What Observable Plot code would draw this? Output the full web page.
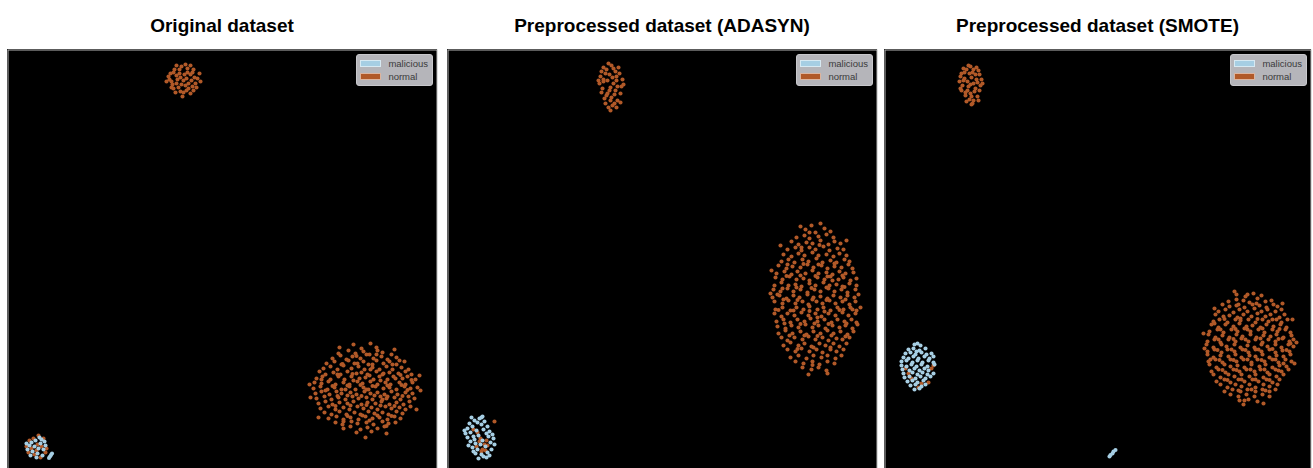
<!DOCTYPE html>
<html>
<head>
<meta charset="utf-8">
<script src="https://cdn.jsdelivr.net/npm/d3@7"></script>
<script src="https://cdn.jsdelivr.net/npm/@observablehq/plot@0.6"></script>
<style>
  html, body { margin: 0; padding: 0; background: #ffffff; }
  body { width: 1313px; height: 468px; overflow: hidden; position: relative; font-family: "Liberation Sans", Arial, Helvetica, sans-serif; }
  .panel { position: absolute; top: 0; }
  .title { position: absolute; top: 15px; left: 0; text-align: center; font-weight: bold; font-size: 19px; line-height: 22px; color: #000; white-space: nowrap; }
  .frame { position: absolute; top: 49px; left: 0; }
  .frame svg { display: block; }
  .legend { position: absolute; top: 5px; right: 4px; background: #b5b5ba; border: 1px solid #c8c8cc; border-radius: 3px; padding: 2px 4px 2px 3px; font-size: 9.5px; color: #3a3a3a; }
  .legend .row { display: flex; align-items: center; height: 13px; line-height: 13px; }
  .legend .sw { display: inline-block; width: 19px; height: 5px; margin-right: 7px; border: 1px solid rgba(255,255,255,0.55); }
</style>
</head>
<body>
<script>
// ---------- categories, colours, texts ----------
const labels = ["malicious", "normal"];
const labelColors = ["#a6cee3", "#b15928"];
const titles = ["Original dataset", "Preprocessed dataset (ADASYN)", "Preprocessed dataset (SMOTE)"];
const umapNote = "UMAP: n_neighbors=10, min_dist=0.5";

// ---------- Panel 1: Original dataset (UMAP coordinates, estimated) ----------
const p1NormalTop = [[17.6,39.9],[16.9,40.4],[18.3,40.5],[17.2,41.0],[18.0,41.1],[16.4,39.8],[18.8,39.6],[17.1,39.2],[18.1,39.1],[17.6,38.7],[16.6,39.1],[18.7,40.2],[16.3,40.6],[17.7,40.5],[16.9,39.6],[18.4,39.9],[17.4,41.3],[18.6,41.0],[16.7,41.0],[17.9,38.9],[16.2,40.0],[19.0,40.1],[18.9,39.2],[17.3,38.8],[16.8,38.7],[18.3,38.6],[17.0,40.0],[17.9,40.1],[17.4,39.5],[18.1,39.6],[16.5,39.5],[19.2,40.6],[17.8,41.5],[16.1,40.3],[18.6,38.9],[17.5,38.3],[16.9,41.4],[18.3,41.4],[17.2,40.6],[18.5,40.7],[15.9,39.8],[19.3,39.8],[17.3,40.2],[18.0,40.7],[16.6,40.7],[17.8,39.4],[16.4,39.2],[18.5,39.3]];
const p1NormalBig = [[34.6,13.5],[35.4,13.1],[36.3,13.6],[36.9,13.2],
[33.1,12.6],[34.1,12.9],[34.8,12.6],[35.6,12.8],[36.2,12.5],[37.0,12.9],[37.5,12.7],[38.4,12.5],
[32.5,12.1],[33.3,12.4],[33.9,12.0],[34.5,12.3],[35.3,12.1],[35.9,12.5],[36.6,12.1],[37.4,12.3],[38.0,12.0],[38.9,12.2],[39.2,11.9],
[31.9,11.6],[32.7,11.8],[33.4,11.5],[34.1,11.9],[34.7,11.6],[35.6,11.8],[36.1,11.5],[36.9,11.9],[37.6,11.6],[38.2,11.8],[38.9,11.5],[39.7,11.8],
[31.6,11.1],[32.3,11.3],[33.0,11.0],[33.6,11.4],[34.4,11.1],[35.1,11.3],[35.7,11.0],[36.5,11.2],[37.2,11.0],[37.9,11.3],[38.5,11.0],[39.4,11.2],[40.1,11.0],
[31.2,10.8],[31.8,10.5],[32.6,10.7],[33.3,10.5],[34.0,10.8],[34.9,10.6],[35.4,10.7],[36.2,10.4],[36.9,10.8],[37.5,10.5],[38.2,10.7],[39.1,10.6],[39.8,10.8],[40.4,10.5],
[30.9,10.1],[31.5,10.3],[32.3,10.0],[33.1,10.3],[33.7,10.0],[34.4,10.3],[35.2,10.1],[35.8,10.2],[36.6,10.0],[37.2,10.3],[38.0,10.0],[38.6,10.3],[39.5,10.1],[40.0,10.3],[40.8,10.0],
[30.7,9.7],[31.4,9.6],[32.1,9.8],[32.8,9.5],[33.6,9.7],[34.2,9.5],[35.0,9.8],[35.5,9.6],[36.3,9.8],[37.0,9.5],[37.8,9.7],[38.3,9.5],[39.2,9.7],[39.8,9.5],[40.5,9.7],
[30.6,9.1],[31.3,9.3],[32.0,9.0],[32.7,9.2],[33.4,9.0],[34.2,9.3],[34.8,9.0],[35.6,9.2],[36.1,9.0],[36.8,9.3],[37.6,9.1],[38.2,9.2],[38.9,9.0],[39.7,9.3],[40.3,9.1],[41.0,9.2],
[30.8,8.6],[31.4,8.8],[32.2,8.5],[32.9,8.8],[33.4,8.6],[34.3,8.7],[34.9,8.5],[35.7,8.8],[36.3,8.6],[37.0,8.7],[37.7,8.5],[38.4,8.8],[39.0,8.5],[39.8,8.7],[40.5,8.6],
[30.9,8.1],[31.7,8.3],[32.4,8.0],[33.1,8.2],[33.8,8.0],[34.5,8.3],[35.1,8.1],[35.9,8.2],[36.5,8.0],[37.3,8.3],[37.9,8.1],[38.7,8.2],[39.3,8.0],[40.1,8.3],[40.7,8.1],
[31.1,7.6],[31.8,7.8],[32.5,7.5],[33.2,7.7],[34.0,7.6],[34.6,7.8],[35.4,7.5],[36.0,7.7],[36.8,7.6],[37.4,7.8],[38.2,7.5],[38.9,7.7],[39.6,7.5],[40.2,7.8],
[31.3,7.1],[32.1,7.3],[32.8,7.0],[33.6,7.2],[34.2,7.0],[35.0,7.3],[35.6,7.1],[36.4,7.2],[37.0,7.0],[37.8,7.3],[38.4,7.1],[39.2,7.2],[39.8,7.0],[40.3,7.3],
[31.7,6.7],[32.4,6.5],[33.2,6.8],[33.9,6.5],[34.7,6.7],[35.3,6.5],[36.1,6.8],[36.7,6.6],[37.5,6.7],[38.1,6.5],[38.9,6.8],[39.5,6.6],
[32.1,6.1],[32.9,6.3],[33.6,6.0],[34.3,6.2],[35.1,6.0],[35.8,6.3],[36.5,6.1],[37.2,6.2],[38.0,6.0],[38.7,6.3],[39.3,6.1],
[32.8,5.7],[33.5,5.5],[34.4,5.8],[35.0,5.6],[35.9,5.7],[36.6,5.5],[37.5,5.8],[38.1,5.6],[38.8,5.7],
[33.6,5.1],[34.3,5.3],[35.3,5.0],[36.0,5.2],[37.0,5.1],[37.7,5.3],
[34.9,4.7],[36.4,4.8],
[30.2,9.5],[41.3,8.9],[41.2,10.4],[30.3,8.2],[33.2,13.2],[38.7,13.0],[35.8,4.2],[37.9,4.6],[31.1,6.2],[40.9,7.0],
[33.0,10.5],[34.5,10.55],[36.0,10.5],[37.6,10.6],[39.3,10.45],[32.5,9.35],[34.0,9.4],[35.3,9.45],[36.5,9.35],[38.0,9.4],[39.4,9.45],[33.0,8.35],[34.0,8.4],[35.4,8.35],[36.7,8.4],[38.0,8.3],[39.5,8.35],[32.8,7.35],[34.3,7.4],[35.9,7.45],[37.3,7.4],[38.7,7.35],[33.5,11.55],[35.0,11.6],[36.5,11.5],[38.5,11.5],[34.0,6.35],[35.5,6.4],[37.0,6.4],[38.4,6.35],[34.9,12.35],[36.9,12.5],[33.6,5.8],[36.2,5.9],[37.9,5.35],[31.4,10.0],[40.4,9.95],[31.8,8.9],[40.0,8.95],[37.3,9.9],[35.9,9.0],[34.6,9.9],[38.8,10.1],[36.3,11.0],[33.8,9.0],[37.5,8.0]];
const p1NormalMix = [[2.6,4.1],[3.4,3.3],[2.1,2.7],[3.0,3.5],[2.7,2.5],[3.8,2.7],[2.4,3.1],[3.3,2.2],[1.9,3.3],[3.6,4.1],[2.9,2.9],[3.1,4.4],[3.9,3.1],[2.2,3.9]];
const p1Malicious = [[2.2,3.4],[2.8,3.9],[3.3,3.6],[2.5,2.8],[3.0,2.6],[3.6,3.0],[2.0,3.0],[3.2,4.2],[2.7,3.3],[3.5,2.4],[2.3,2.4],[3.8,3.4],[2.9,2.2],[3.7,3.8],[2.4,3.7],[3.1,3.1],[1.9,3.6],[3.4,4.0],[4.15,2.15],[4.25,2.3],[4.35,2.45],[4.45,2.6]];

// ---------- Panel 2: ADASYN ----------
const p2NormalTop = [[16.3,39.2],[15.6,39.8],[16.9,39.9],[16.2,40.5],[15.9,41.0],[16.6,41.1],[17.2,40.6],[15.3,40.3],[15.5,39.1],[17.4,39.3],[16.0,38.6],[16.7,38.5],[16.3,37.9],[15.7,38.1],[17.0,37.9],[16.5,37.4],[16.1,37.2],[15.4,38.7],[17.3,38.6],[16.0,39.9],[16.6,39.6],[15.8,40.6],[16.9,40.3],[17.5,40.0],[15.2,39.6],[16.4,41.4],[16.1,41.6],[15.6,41.2],[17.1,41.2],[16.8,38.9],[15.9,38.4],[16.4,38.2],[17.3,37.7],[16.7,37.6],[15.8,37.6],[16.3,36.9],[16.9,37.2],[17.6,39.5],[15.1,39.9],[16.2,38.9],[15.6,40.0],[17.0,39.3],[16.5,40.2],[15.4,40.8],[16.8,40.8]];
const p2NormalBig = [[35.8,25.0],[36.8,24.7],[37.7,25.1],[38.3,24.8],[36.4,25.4],[37.3,25.6],
[34.9,24.2],[35.7,24.4],[36.2,24.1],[37.1,24.3],[37.9,24.5],[38.6,24.2],
[34.4,23.8],[35.1,23.5],[35.9,23.7],[36.5,23.6],[37.3,23.9],[38.1,23.5],[38.7,23.8],[39.3,23.6],
[34.0,23.0],[34.8,23.2],[35.4,22.9],[36.2,23.2],[36.8,23.0],[37.6,23.3],[38.2,22.9],[39.0,23.1],[39.6,23.0],
[33.6,22.5],[34.4,22.3],[35.1,22.6],[35.7,22.4],[36.5,22.7],[37.1,22.4],[37.9,22.5],[38.6,22.3],[39.2,22.6],[39.9,22.4],
[33.4,21.8],[34.1,22.0],[34.7,21.7],[35.5,22.0],[36.1,21.8],[36.9,22.1],[37.5,21.7],[38.3,21.9],[38.9,21.7],[39.7,22.0],[40.2,21.8],
[33.1,21.4],[33.9,21.1],[34.5,21.3],[35.3,21.2],[36.0,21.5],[36.6,21.2],[37.4,21.4],[38.0,21.1],[38.7,21.3],[39.4,21.2],[40.1,21.5],[40.5,21.1],
[32.9,20.6],[33.7,20.8],[34.4,20.5],[35.0,20.8],[35.8,20.6],[36.5,20.9],[37.1,20.6],[37.9,20.7],[38.5,20.5],[39.2,20.8],[39.8,20.6],[40.6,20.7],
[32.8,20.2],[33.5,20.0],[34.2,20.3],[34.9,20.0],[35.6,20.1],[36.2,19.9],[37.0,20.2],[37.7,20.0],[38.3,20.3],[39.1,20.0],[39.6,20.2],[40.3,19.9],[40.9,20.1],
[32.7,19.4],[33.4,19.7],[34.1,19.4],[34.8,19.5],[35.4,19.3],[36.2,19.6],[36.8,19.4],[37.6,19.7],[38.2,19.4],[38.9,19.5],[39.5,19.3],[40.2,19.6],[40.9,19.4],
[32.6,19.0],[33.3,18.8],[34.0,19.1],[34.6,18.8],[35.3,19.0],[36.0,18.7],[36.7,19.0],[37.3,18.8],[38.1,19.1],[38.7,18.8],[39.4,19.0],[40.0,18.7],[40.8,19.0],
[32.5,18.2],[33.2,18.4],[33.9,18.1],[34.6,18.4],[35.2,18.2],[36.0,18.5],[36.6,18.2],[37.3,18.3],[38.0,18.1],[38.6,18.4],[39.3,18.2],[40.0,18.4],[40.7,18.2],[41.1,18.5],
[32.7,17.8],[33.5,17.6],[34.1,17.9],[34.8,17.6],[35.5,17.8],[36.1,17.5],[36.9,17.8],[37.5,17.6],[38.2,17.9],[38.8,17.6],[39.5,17.8],[40.2,17.5],[40.8,17.8],
[32.8,17.0],[33.5,17.2],[34.3,16.9],[34.9,17.2],[35.6,17.0],[36.2,17.3],[37.0,17.0],[37.6,17.2],[38.3,16.9],[39.0,17.2],[39.6,17.0],[40.3,17.2],[40.9,16.9],
[32.7,16.6],[33.4,16.3],[34.0,16.6],[34.7,16.4],[35.4,16.7],[36.1,16.4],[36.8,16.6],[37.4,16.3],[38.1,16.6],[38.8,16.4],[39.5,16.7],[40.1,16.4],[40.8,16.6],
[32.9,15.8],[33.6,16.0],[34.3,15.7],[35.0,16.0],[35.7,15.8],[36.3,16.1],[37.0,15.8],[37.7,16.0],[38.4,15.7],[39.0,16.0],[39.7,15.8],[40.4,16.0],[40.9,15.7],
[33.0,15.3],[33.8,15.1],[34.4,15.4],[35.1,15.2],[35.8,15.5],[36.5,15.2],[37.1,15.4],[37.8,15.1],[38.5,15.4],[39.2,15.2],[39.8,15.4],[40.5,15.1],
[33.1,14.6],[33.8,14.9],[34.5,14.6],[35.3,14.8],[35.9,14.5],[36.6,14.8],[37.3,14.6],[38.0,14.9],[38.6,14.6],[39.3,14.8],[40.0,14.5],[40.6,14.8],
[33.4,14.2],[34.0,13.9],[34.7,14.2],[35.5,14.0],[36.1,14.3],[36.8,14.0],[37.5,14.2],[38.1,13.9],[38.9,14.1],[39.5,14.0],[40.2,14.2],
[33.6,13.4],[34.3,13.7],[35.1,13.4],[35.7,13.6],[36.4,13.3],[37.2,13.6],[37.8,13.4],[38.6,13.6],[39.2,13.3],[39.9,13.6],
[34.0,13.0],[34.8,12.8],[35.4,13.1],[36.2,12.8],[36.9,13.0],[37.5,12.7],[38.3,13.0],[38.9,12.8],[39.6,13.0],
[34.3,12.2],[35.1,12.4],[35.9,12.1],[36.6,12.4],[37.4,12.2],[38.0,12.4],[38.8,12.1],[39.4,12.4],
[34.8,11.8],[35.6,11.6],[36.5,11.8],[37.2,11.5],[38.0,11.8],[38.7,11.6],
[35.5,11.2],[36.4,11.0],[37.1,11.2],[37.9,10.9],
[36.1,10.5],[38.0,10.6],[32.3,18.6],[41.3,17.2],[41.0,15.5],[32.4,20.9],[33.3,23.4],[39.9,23.9],[35.3,25.3],
[34.0,21.5],[35.6,21.55],[37.1,21.5],[38.7,21.6],[33.9,20.35],[35.3,20.4],[36.8,20.35],[38.0,20.3],[39.5,20.4],[33.5,19.1],[34.9,19.2],[36.4,19.15],[37.9,19.2],[39.7,19.25],[33.6,18.0],[35.0,17.95],[36.5,18.0],[37.9,17.95],[39.8,18.0],[33.1,16.95],[34.6,16.9],[36.2,16.85],[37.7,16.8],[39.2,16.95],[33.7,15.6],[35.3,15.55],[36.7,15.6],[38.1,15.55],[39.9,15.6],[34.2,14.4],[35.7,14.4],[37.0,14.35],[38.4,14.4],[39.8,14.3],[35.0,13.05],[36.6,13.2],[38.3,13.2],[35.4,23.2],[37.2,23.45],[36.2,24.7],[36.5,11.45],[40.5,17.0],[33.0,18.5],[37.0,16.2],[38.5,19.9]];
const p2NormalMix = [[3.0,4.7],[3.3,4.1],[3.7,3.5],[2.9,3.3],[3.5,3.0],[3.9,3.9],[2.6,5.0],[3.2,3.8],[3.8,2.9],[4.0,3.4],[3.4,2.8],[4.7,5.8]];
const p2Malicious = [[2.2,5.6],[2.7,5.9],[3.2,6.1],[3.7,5.8],[2.0,5.1],[2.5,5.3],[3.4,5.5],[4.0,5.3],[1.8,4.6],[2.3,4.7],[2.9,4.9],[3.6,5.0],[4.2,4.8],[2.0,4.2],[2.6,4.3],[3.1,4.4],[4.1,4.3],[4.6,4.1],[2.3,3.8],[2.8,3.6],[3.5,3.9],[4.3,3.7],[4.7,3.5],[2.5,3.2],[3.0,3.0],[3.8,3.3],[4.4,3.0],[2.8,2.6],[3.4,2.5],[4.0,2.7],[3.1,2.1],[3.6,2.3],[2.4,6.2],[3.5,6.3],[1.7,4.9],[4.5,4.5],[2.1,3.4],[3.9,2.2],[2.6,2.8],[3.3,3.5],[4.2,2.4],[3.0,5.7],[2.7,4.0],[3.9,4.6],[3.4,6.2]];

// ---------- Panel 3: SMOTE ----------
const p3NormalTop = [[8.6,39.5],[8.0,40.1],[9.2,40.0],[8.5,40.6],[8.2,41.0],[8.9,41.0],[9.5,40.5],[7.6,40.3],[7.8,39.4],[9.6,39.4],[8.3,38.9],[9.0,38.8],[8.7,38.3],[8.1,38.4],[9.3,38.3],[8.9,37.9],[8.5,38.0],[7.7,38.9],[9.5,38.9],[8.3,39.8],[8.9,39.6],[8.0,40.7],[9.1,40.5],[9.7,40.0],[7.5,39.8],[8.6,41.3],[8.4,41.4],[7.9,41.1],[9.2,41.2],[9.1,39.1],[8.1,38.7],[8.6,38.6],[9.4,37.9],[8.8,37.6],[8.2,37.8],[8.7,37.5],[7.9,39.9],[8.7,40.2],[9.8,39.6],[7.6,39.1],[8.4,39.3],[9.3,39.7],[8.8,40.7],[7.7,40.6],[9.4,40.9]];
const p3NormalBig = [[35.2,18.5],[36.1,18.3],[36.9,18.6],[37.7,18.4],
[34.4,17.8],[35.2,18.0],[35.9,17.9],[36.5,17.7],[37.3,18.1],[38.1,17.8],[38.7,17.9],
[33.8,17.5],[34.5,17.3],[35.4,17.5],[36.0,17.2],[36.8,17.5],[37.5,17.4],[38.2,17.2],[38.9,17.5],[39.3,17.3],
[33.4,16.8],[34.1,17.0],[34.9,16.7],[35.5,17.0],[36.3,16.8],[37.0,17.1],[37.7,16.8],[38.3,17.0],[39.1,16.8],[39.7,17.0],
[33.1,16.5],[33.9,16.3],[34.5,16.4],[35.3,16.2],[35.9,16.5],[36.7,16.3],[37.3,16.6],[38.1,16.3],[38.6,16.5],[39.5,16.2],[40.0,16.5],
[32.9,15.8],[33.5,16.0],[34.3,15.7],[35.1,16.0],[35.6,15.9],[36.4,16.0],[37.1,15.7],[37.8,16.0],[38.4,15.8],[39.2,16.0],[39.7,15.7],[40.3,16.0],
[32.7,15.5],[33.4,15.2],[34.1,15.5],[34.9,15.3],[35.5,15.6],[36.2,15.3],[36.8,15.4],[37.6,15.2],[38.2,15.5],[38.9,15.3],[39.6,15.5],[40.2,15.2],
[32.5,14.8],[33.3,15.0],[33.9,14.7],[34.7,15.0],[35.3,14.8],[36.0,15.1],[36.6,14.8],[37.4,15.0],[38.0,14.7],[38.8,15.0],[39.3,14.8],[40.1,15.0],[40.6,14.7],
[32.4,14.5],[33.1,14.2],[33.8,14.4],[34.5,14.2],[35.2,14.5],[35.8,14.3],[36.6,14.5],[37.2,14.2],[37.9,14.4],[38.6,14.3],[39.2,14.5],[39.9,14.2],[40.7,14.4],
[32.3,13.8],[33.0,14.0],[33.6,13.7],[34.4,14.0],[35.1,13.8],[35.7,14.1],[36.4,13.8],[37.1,14.0],[37.8,13.7],[38.4,14.0],[39.1,13.8],[39.8,14.1],[40.5,13.8],[40.9,14.0],
[32.2,13.5],[32.9,13.2],[33.7,13.5],[34.2,13.3],[35.0,13.5],[35.6,13.2],[36.3,13.4],[37.0,13.2],[37.7,13.5],[38.3,13.3],[39.1,13.5],[39.7,13.2],[40.4,13.5],[40.9,13.3],
[32.3,12.8],[33.0,13.0],[33.7,12.7],[34.3,13.0],[35.0,12.8],[35.8,13.0],[36.4,12.7],[37.1,13.0],[37.7,12.8],[38.5,13.0],[39.1,12.7],[39.8,12.9],[40.5,12.8],
[32.3,12.5],[32.9,12.2],[33.6,12.4],[34.4,12.3],[35.1,12.5],[35.7,12.2],[36.5,12.4],[37.1,12.3],[37.8,12.5],[38.5,12.2],[39.2,12.4],[39.9,12.3],[40.6,12.5],
[32.4,11.8],[33.1,12.0],[33.8,11.7],[34.6,12.0],[35.2,11.8],[35.9,12.0],[36.7,11.7],[37.3,12.0],[38.0,11.8],[38.8,12.0],[39.4,11.7],[40.1,12.0],[40.7,11.8],
[32.5,11.5],[33.2,11.2],[34.0,11.5],[34.6,11.3],[35.3,11.4],[36.0,11.2],[36.7,11.5],[37.5,11.3],[38.1,11.5],[38.8,11.2],[39.5,11.4],[40.2,11.3],
[32.7,10.8],[33.4,11.0],[34.1,10.7],[34.9,11.0],[35.5,10.8],[36.2,11.0],[37.0,10.8],[37.6,11.0],[38.3,10.7],[39.1,11.0],[39.7,10.8],[40.4,11.0],
[32.9,10.5],[33.6,10.2],[34.4,10.5],[35.0,10.3],[35.7,10.5],[36.5,10.3],[37.1,10.5],[37.9,10.2],[38.5,10.5],[39.2,10.3],[39.9,10.5],
[33.2,9.8],[34.0,10.0],[34.6,9.7],[35.4,10.0],[36.0,9.8],[36.8,10.0],[37.4,9.8],[38.2,10.0],[38.8,9.7],[39.5,10.0],
[33.6,9.5],[34.3,9.2],[35.1,9.5],[35.7,9.3],[36.5,9.5],[37.1,9.2],[37.9,9.5],[38.5,9.3],[39.3,9.5],
[34.0,8.8],[34.8,9.0],[35.6,8.8],[36.3,9.0],[37.1,8.8],[37.8,9.0],[38.5,8.8],[39.1,9.0],
[34.6,8.5],[35.4,8.3],[36.2,8.5],[37.0,8.3],[37.8,8.5],[38.5,8.3],
[35.5,7.9],[36.4,8.0],[37.3,7.8],
[35.9,7.5],[37.9,7.6],[32.0,13.1],[41.2,13.7],[41.0,11.6],[33.0,17.1],[39.8,17.6],[35.0,18.8],[31.9,14.6],[40.8,16.0],
[34.0,16.05],[35.6,16.1],[37.3,16.05],[38.8,16.0],[33.6,15.0],[35.1,15.05],[36.3,15.0],[37.8,15.1],[39.5,15.05],[33.4,14.0],[34.9,14.05],[36.1,14.0],[37.6,14.1],[39.4,14.05],[33.3,12.95],[34.7,13.0],[36.1,12.95],[37.4,13.0],[38.8,13.05],[40.2,12.95],[33.5,11.95],[34.9,11.95],[36.3,12.0],[37.7,11.95],[39.1,12.0],[33.8,10.95],[35.2,10.95],[36.6,11.0],[38.0,11.0],[39.4,10.9],[34.3,9.95],[35.7,10.0],[37.1,10.0],[38.5,9.95],[35.4,8.9],[36.7,9.0],[38.1,8.9],[35.2,17.4],[37.2,17.6],[36.3,18.5],[40.6,13.6],[32.6,12.0],[36.0,7.9],[39.9,11.6],[33.0,15.6]];
const p3NormalMix = [[4.9,11.4],[2.1,11.1],[2.7,10.1],[3.7,9.6],[4.4,9.7],[4.7,11.1],[3.4,9.2],[2.4,10.6]];
const p3Malicious = [[3.0,13.5],[3.6,13.4],[3.3,13.6],
[2.4,13.0],[2.9,13.1],[3.5,12.9],[4.1,13.1],[3.2,12.8],
[2.1,12.6],[2.6,12.7],[3.1,12.5],[3.7,12.7],[4.2,12.5],[4.7,12.6],
[1.9,12.2],[2.4,12.1],[2.9,12.3],[3.4,12.1],[4.0,12.3],[4.5,12.1],[4.9,12.3],
[1.7,11.8],[2.2,11.9],[2.8,11.7],[3.3,11.9],[3.8,11.7],[4.4,11.9],[4.9,11.7],
[1.7,11.4],[2.2,11.3],[2.7,11.5],[3.2,11.3],[3.7,11.5],[4.3,11.3],[5.0,11.5],
[1.8,11.0],[2.5,10.9],[3.0,11.1],[3.5,10.9],[4.0,11.1],[4.4,10.9],
[1.9,10.6],[2.8,10.7],[3.3,10.5],[3.8,10.7],[4.3,10.5],[4.9,10.6],
[2.0,10.2],[2.5,10.3],[3.1,10.1],[3.6,10.3],[4.1,10.1],[4.6,10.3],
[2.3,9.8],[2.8,9.9],[3.3,9.7],[3.9,9.9],
[2.6,9.4],[3.1,9.5],[3.7,9.3],[4.1,9.5],
[3.0,9.0],[3.5,9.1],
[22.5,2.3],[22.6,2.45],[22.8,2.6],[22.9,2.8],[23.1,2.95]];

// ---------- assemble ----------
function rows(points, label) { return points.map(([x, y]) => ({x, y, label})); }
const panelData = [
  [...rows([...p1NormalTop, ...p1NormalBig, ...p1NormalMix], "normal"), ...rows(p1Malicious, "malicious")],
  [...rows([...p2NormalTop, ...p2NormalBig, ...p2NormalMix], "normal"), ...rows(p2Malicious, "malicious")],
  [...rows([...p3NormalTop, ...p3NormalBig, ...p3NormalMix], "normal"), ...rows(p3Malicious, "malicious")]
];

// layout (pixels) kept apart from the data
const panelLeft = [7, 447, 884];
const panelWidth = [430, 430, 427];
const panelHeight = 430;

panelData.forEach((data, i) => {
  const w = panelWidth[i];
  const panel = document.createElement("div");
  panel.className = "panel";
  panel.style.left = panelLeft[i] + "px";
  panel.style.width = w + "px";

  const title = document.createElement("div");
  title.className = "title";
  title.style.width = w + "px";
  title.textContent = titles[i];
  panel.appendChild(title);

  const frame = document.createElement("div");
  frame.className = "frame";
  frame.style.width = w + "px";
  frame.style.height = panelHeight + "px";

  const chart = Plot.plot({
    width: w,
    height: panelHeight,
    margin: 0,
    x: {domain: [0, w / 10], axis: null},
    y: {domain: [0, panelHeight / 10], axis: null},
    color: {domain: labels, range: labelColors},
    style: {background: "#000000", overflow: "visible"},
    marks: [
      Plot.frame({stroke: "#b8b8b8", strokeWidth: 1, inset: 0.5, fill: "#000000"}),
      Plot.dot(data.filter(d => d.label === "normal"), {x: "x", y: "y", r: 2.05, fill: "label"}),
      Plot.dot(data.filter(d => d.label === "malicious"), {x: "x", y: "y", r: 2.05, fill: "label"}),
      Plot.text([umapNote], {frameAnchor: "bottom-right", dx: -4, dy: -4, fill: "#ffffff", fontSize: 10, textAnchor: "end", lineAnchor: "bottom", fontFamily: "Liberation Sans, Arial, sans-serif"})
    ]
  });
  frame.appendChild(chart);

  const legend = document.createElement("div");
  legend.className = "legend";
  labels.forEach((lab, k) => {
    const row = document.createElement("div");
    row.className = "row";
    const sw = document.createElement("span");
    sw.className = "sw";
    sw.style.background = labelColors[k];
    row.appendChild(sw);
    row.appendChild(document.createTextNode(lab));
    legend.appendChild(row);
  });
  frame.appendChild(legend);

  panel.appendChild(frame);
  document.body.appendChild(panel);
});
</script>
</body>
</html>
